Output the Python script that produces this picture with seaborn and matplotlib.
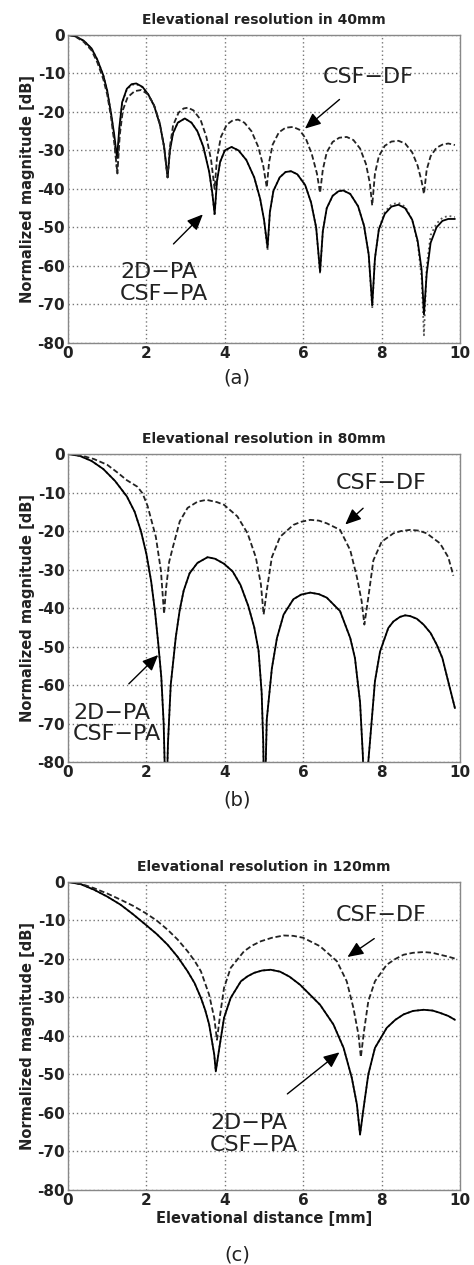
import matplotlib
matplotlib.use("Agg")
import matplotlib.pyplot as plt
import seaborn as sns

# ---- panel (a): 40 mm ----
a_x = [0, 0.2, 0.4, 0.6, 0.75, 0.9, 1.0, 1.1, 1.18, 1.25,
       1.31, 1.38, 1.5, 1.62, 1.74, 1.9, 2.05, 2.2, 2.35, 2.45, 2.54,
       2.6, 2.68, 2.8, 2.98, 3.15, 3.3, 3.45, 3.6, 3.68, 3.74,
       3.8, 3.88, 4.0, 4.17, 4.35, 4.55, 4.75, 4.9, 5.0, 5.09,
       5.15, 5.24, 5.4, 5.55, 5.69, 5.85, 6.05, 6.2, 6.33, 6.43,
       6.5, 6.6, 6.75, 6.9, 7.02, 7.2, 7.4, 7.55, 7.67, 7.76,
       7.83, 7.93, 8.08, 8.25, 8.43, 8.6, 8.78, 8.92, 9.02, 9.08,
       9.15, 9.25, 9.4, 9.55, 9.7, 9.87]
a_2dpa = [0, -0.4, -1.5, -3.5, -6.5, -10.5, -14.5, -20.5, -26, -32,
          -24, -17.5, -14, -12.8, -12.6, -13.5, -15.5, -18.5, -23.5, -29, -37,
          -30, -25.5, -22.8, -21.7, -22.8, -25, -29, -35.5, -41, -46.5,
          -38, -33, -30, -29.1, -30, -32.5, -37, -42.5, -48, -55.2,
          -46, -40.5, -37, -35.6, -35.4, -36.2, -39, -43.5, -50, -61.5,
          -51, -45, -41.8, -40.6, -40.4, -41.3, -44.5, -49.5, -57, -70.2,
          -58, -50.5, -46.5, -44.6, -44.1, -45, -48, -53.5, -61, -72.6,
          -62, -54, -50, -48.3, -47.8, -47.8]
a_csfpa = [0, -0.4, -1.5, -3.5, -6.5, -10.5, -14.5, -20.5, -27, -36,
           -25, -17.8, -14.2, -13, -12.8, -13.6, -15.5, -18.5, -23.5, -29, -37,
           -30, -25.5, -22.8, -21.7, -22.8, -25, -29, -35.5, -41, -47,
           -38, -33, -30, -29.1, -30, -32.5, -37, -42.5, -48, -56,
           -46, -40.5, -37, -35.6, -35.4, -36.2, -39, -43.5, -50, -62,
           -51, -45, -41.8, -40.6, -40.4, -41.3, -44.5, -49.5, -57, -71,
           -58, -50.5, -46, -44, -43.6, -44.6, -48, -54, -63, -78,
           -60, -52, -49, -47.5, -47, -47.3]
a_dx = [0, 0.2, 0.4, 0.6, 0.75, 0.9, 1.0, 1.1, 1.18, 1.26,
        1.32, 1.4, 1.52, 1.7, 1.87, 2.02, 2.18, 2.33, 2.45, 2.54,
        2.6, 2.68, 2.82, 2.95, 3.06, 3.2, 3.38, 3.53, 3.65, 3.74,
        3.8, 3.9, 4.05, 4.2, 4.34, 4.5, 4.68, 4.85, 4.98, 5.07,
        5.13, 5.22, 5.38, 5.55, 5.74, 5.9, 6.07, 6.22, 6.35, 6.43,
        6.5, 6.6, 6.75, 6.92, 7.11, 7.28, 7.45, 7.6, 7.7, 7.76,
        7.83, 7.93, 8.08, 8.25, 8.43, 8.6, 8.78, 8.92, 9.02, 9.08,
        9.15, 9.25, 9.4, 9.55, 9.7, 9.87]
a_csfdf = [0, -0.5, -1.8, -4, -7.2, -11.5, -15.5, -21.5, -28, -36,
           -26, -19.5, -16.2, -14.6, -14.3, -15.3, -17.8, -22.5, -29, -37,
           -29, -23.5, -20.2, -19.1, -18.9, -19.6, -22, -26.5, -32.5, -40,
           -32, -26.5, -23.3, -22.2, -22, -22.8, -25, -29, -34, -39.6,
           -33, -28.5, -25.3, -24.1, -23.9, -24.6, -27, -31, -36, -41,
           -35, -30.5, -27.8, -26.7, -26.5, -27.3, -29.5, -33.5, -38.5, -44.3,
           -36, -31.5, -28.8, -27.7, -27.5, -28.2, -30.5, -34, -38, -41.3,
           -35, -31.5, -29.3, -28.5, -28.2, -28.6]

# ---- panel (b): 80 mm ----
b_x = [0, 0.3, 0.6, 0.9, 1.2, 1.5, 1.7, 1.86, 2.0, 2.12, 2.22, 2.3, 2.38, 2.44, 2.5,
       2.55, 2.62, 2.75, 2.85, 2.95, 3.1, 3.3, 3.56, 3.75, 3.98, 4.2, 4.4, 4.6, 4.75,
       4.86, 4.94, 4.98, 5.01,
       5.07, 5.2, 5.33, 5.5, 5.75, 5.95, 6.18, 6.4, 6.6, 6.94, 7.2, 7.32, 7.45, 7.52, 7.57,
       7.66, 7.75, 7.83, 7.96, 8.17, 8.3, 8.47, 8.6, 8.73, 8.9, 9.07, 9.25, 9.41, 9.55,
       9.66, 9.87]
b_2dpa = [0, -0.5, -1.8, -3.9, -7, -11, -15, -20, -26, -33, -41, -49, -58, -70, -95,
          -75, -60, -47.5, -40.5, -35.5, -31, -28.3, -26.8, -27.2, -28.5, -30.5, -34, -39.5, -45,
          -51, -62, -75, -95,
          -69, -55.7, -47.8, -41.7, -37.7, -36.5, -36, -36.4, -37.3, -40.8, -47.8, -53, -64.5, -78, -95,
          -80, -68.9, -59, -51.3, -45.2, -43.5, -42.3, -41.9, -42.1, -42.8, -44.3, -46.5, -49.6, -53,
          -57.5, -66]
b_dx = [0, 0.3, 0.66, 1.0, 1.26, 1.5, 1.77, 1.9, 2.03, 2.24, 2.37, 2.45,
        2.5, 2.58, 2.68, 2.85, 3.05, 3.3, 3.53, 3.8, 3.98, 4.32, 4.58, 4.79, 4.92, 4.99,
        5.07, 5.2, 5.41, 5.75, 5.95, 6.18, 6.4, 6.6, 6.94, 7.2, 7.37, 7.49, 7.56,
        7.66, 7.79, 8.0, 8.3, 8.5, 8.73, 8.95, 9.15, 9.49, 9.7, 9.83]
b_csfdf = [0, -0.3, -1.3, -2.8, -4.8, -6.8, -8.5, -10.2, -13.5, -21.5, -30.3, -41.5,
           -35, -28, -24, -17.5, -14, -12.4, -11.9, -12.5, -13.2, -16.2, -20.6, -26.8, -33.8, -41.7,
           -35.5, -26.8, -21.5, -18.4, -17.6, -17.1, -17.3, -18, -19.7, -25, -32, -38.2, -44.3,
           -37.3, -27.6, -22.8, -20.6, -20, -19.7, -19.9, -20.6, -23.2, -26.8, -31.6]

# ---- panel (c): 120 mm ----
c_x = [0, 0.33, 0.66, 1.0, 1.34, 1.66, 1.98, 2.26, 2.54, 2.8, 3.05, 3.23, 3.39, 3.5, 3.6, 3.73, 3.77,
       3.86, 3.98, 4.15, 4.41, 4.58, 4.75, 4.95, 5.17, 5.41, 5.65, 5.92, 6.43, 6.77, 7.03, 7.24, 7.37, 7.45,
       7.54, 7.66, 7.83, 8.13, 8.35, 8.56, 8.8, 9.07, 9.3, 9.49, 9.7, 9.87]
c_2dpa = [0, -0.6, -2, -3.8, -5.9, -8.4, -11.1, -13.5, -16.3, -19.5, -23.2, -26.3, -30.1, -33.3, -37, -44.8, -49.2,
          -43.1, -35.3, -30.1, -25.8, -24.5, -23.6, -23, -22.8, -23.3, -24.6, -26.7, -31.9, -37, -43.1, -50.9, -57.8, -65.6,
          -58.7, -50, -43.1, -37.9, -35.8, -34.4, -33.5, -33.2, -33.4, -34, -34.8, -35.8]
c_dx = [0, 0.33, 0.66, 1.0, 1.34, 1.66, 1.98, 2.26, 2.54, 2.8, 3.05, 3.23, 3.39, 3.6, 3.73, 3.8,
        3.88, 3.98, 4.15, 4.49, 4.7, 4.92, 5.2, 5.5, 5.75, 6.0, 6.43, 6.86, 7.11, 7.28, 7.41, 7.47,
        7.55, 7.66, 7.83, 8.13, 8.35, 8.56, 8.8, 9.07, 9.3, 9.49, 9.7, 9.87]
c_csfdf = [0, -0.5, -1.6, -3, -4.6, -6.2, -8.1, -10, -12.4, -15, -18, -20.5, -23.2, -29.3, -35.3, -41,
           -34.5, -27.5, -22.3, -18, -16.5, -15.4, -14.5, -13.9, -14, -14.5, -16.7, -20.6, -25.8, -32.7, -39.7, -45.5,
           -38.8, -31, -25.8, -21.5, -20, -18.9, -18.4, -18.2, -18.4, -18.9, -19.4, -19.9]

titles = ["Elevational resolution in 40mm", "Elevational resolution in 80mm",
          "Elevational resolution in 120mm"]
panel_tags = ["(a)", "(b)", "(c)"]
y_ticks = [0, -10, -20, -30, -40, -50, -60, -70, -80]
x_ticks = [0, 2, 4, 6, 8, 10]

panels = [
    (a_x, a_2dpa, a_csfpa, a_dx, a_csfdf),
    (b_x, b_2dpa, b_2dpa, b_dx, b_csfdf),
    (c_x, c_2dpa, c_2dpa, c_dx, c_csfdf),
]

# label positions (data coords): (CSF-DF text, arrow start, arrow tip, PA text, arrow start, arrow tip)
labels = [
    ((6.5, -11), (6.98, -16.3), (5.99, -24.8), (1.33, -64.5), (2.64, -54.8), (3.49, -46.1)),
    ((6.82, -7.5), (7.58, -13.6), (7.02, -18.8), (0.13, -70), (1.5, -60.2), (2.35, -51.7)),
    ((6.82, -8.7), (7.87, -14.3), (7.07, -19.9), (3.62, -65.5), (5.54, -55.5), (6.98, -43.8)),
]

sns.set_theme(style="white")
plt.rcParams["font.family"] = ["DejaVu Sans"]

fig = plt.figure(figsize=(4.74, 12.65), dpi=100)
bottoms = [0.7289, 0.3976, 0.0593]

for i, (px, pa2d, csfpa, dx, csfdf) in enumerate(panels):
    ax = fig.add_axes([0.1435, bottoms[i], 0.827, 0.2435])
    sns.lineplot(x=px, y=csfpa, ax=ax, color="#555555", linewidth=1.3,
                 linestyle=":", sort=False, estimator=None)
    sns.lineplot(x=px, y=pa2d, ax=ax, color="black", linewidth=1.3,
                 sort=False, estimator=None)
    sns.lineplot(x=dx, y=csfdf, ax=ax, color="#222222", linewidth=1.3,
                 linestyle=(0, (3, 1.5)), sort=False, estimator=None)

    ax.set_xlim(0, 10)
    ax.set_ylim(-80, 0)
    ax.set_xticks(x_ticks)
    ax.set_yticks(y_ticks)
    ax.set_xticklabels([str(t) for t in x_ticks], fontsize=11, fontweight="bold")
    ax.set_yticklabels([str(t) for t in y_ticks], fontsize=11, fontweight="bold")
    ax.tick_params(direction="in", length=3, pad=2, colors="#333333", labelcolor="#222222")
    ax.grid(True, linestyle=(0, (1, 2)), color="#777777", linewidth=1)
    for sp in ax.spines.values():
        sp.set_color("#888888")
        sp.set_linewidth(1)

    ax.set_title(titles[i], fontsize=10, fontweight="bold", color="#222222", pad=8)
    ax.set_ylabel("Normalized magnitude [dB]", fontsize=10.5, fontweight="bold",
                  color="#222222", labelpad=2)
    if i == 2:
        ax.set_xlabel("Elevational distance [mm]", fontsize=10.5, fontweight="bold",
                      color="#222222", labelpad=2)
    else:
        ax.set_xlabel("")

    df_txt, df_a0, df_a1, pa_txt, pa_a0, pa_a1 = labels[i]
    ax.text(df_txt[0], df_txt[1], "CSF\u2212DF", fontsize=16, color="#222222",
            va="center", ha="left")
    ax.annotate("", xy=df_a1, xytext=df_a0,
                arrowprops=dict(arrowstyle="-|>,head_length=0.8,head_width=0.35",
                                color="black", lw=1))
    ax.text(pa_txt[0], pa_txt[1], "2D\u2212PA\nCSF\u2212PA", fontsize=16, color="#222222",
            va="center", ha="left", linespacing=1.1)
    ax.annotate("", xy=pa_a1, xytext=pa_a0,
                arrowprops=dict(arrowstyle="-|>,head_length=0.8,head_width=0.35",
                                color="black", lw=1))

    tag_y = [378, 800, 1255][i]
    fig.text(0.5, 1 - tag_y / 1265, panel_tags[i], fontsize=14, ha="center",
             va="center", color="#222222")

fig.savefig("out.png", dpi=100, facecolor="white")
